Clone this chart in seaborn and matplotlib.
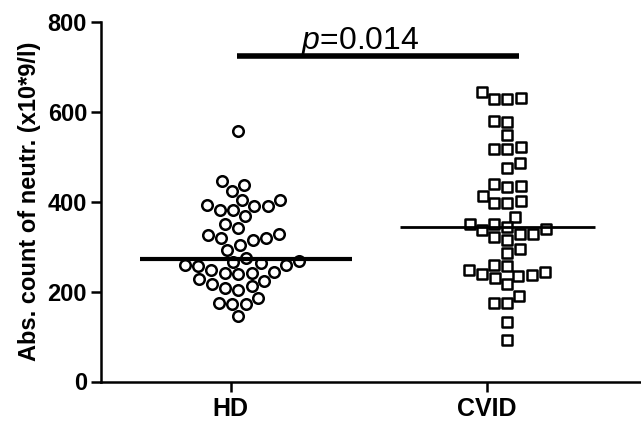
import numpy as np
import pandas as pd
import matplotlib
matplotlib.use("Agg")
import matplotlib.pyplot as plt
import seaborn as sns

# ---- data ----
groups = ["HD", "CVID"]
hd_values = [558, 445, 437, 424, 404, 404, 392, 390, 390, 381,
             381, 367, 351, 342, 327, 325, 320, 318, 314, 303,
             292, 275, 268, 266, 264, 258, 258, 256, 247, 244,
             242, 242, 239, 227, 223, 216, 212, 208, 204, 186,
             175, 173, 172, 146]
cvid_values = [644, 630, 629, 629, 580, 578, 548, 522, 517, 517,
               485, 474, 440, 435, 432, 413, 402, 396, 396, 366,
               351, 350, 343, 340, 336, 327, 327, 321, 314, 294,
               285, 260, 256, 247, 243, 238, 236, 234, 230, 216,
               191, 175, 175, 132, 93]
y_ticks = [0, 200, 400, 600, 800]
y_label = "Abs. count of neutr. (x10*9/l)"
p_text = r"$\it{p}$=0.014"

# ---- layout ----
tick_pos = {"HD": 0.0, "CVID": 1.0}
swarm_pos = {"HD": 0.03, "CVID": 1.08}
median_span = {"HD": (-0.354, 0.474), "CVID": (0.661, 1.423)}
median_lw = {"HD": 3.0, "CVID": 2.0}
markers = {"HD": "o", "CVID": "s"}

sns.set_theme(style="white")
plt.rcParams["font.family"] = ["Liberation Sans", "DejaVu Sans"]
plt.rcParams["mathtext.fontset"] = "custom"
plt.rcParams["mathtext.it"] = "Liberation Sans:italic"
plt.rcParams["mathtext.rm"] = "Liberation Sans"
for key in ["text.color", "axes.labelcolor", "xtick.color", "ytick.color",
            "axes.edgecolor"]:
    plt.rcParams[key] = "black"

fig = plt.figure(figsize=(6.41, 4.22), dpi=100)
ax = fig.add_axes([101 / 641, 40.5 / 422, 540 / 641, 359.8 / 422])

data = {"HD": hd_values, "CVID": cvid_values}
for g in groups:
    df = pd.DataFrame({"x": swarm_pos[g], "y": data[g]})
    n_before = len(ax.collections)
    sns.swarmplot(data=df, x="x", y="y", native_scale=True, orient="x",
                  marker=markers[g], color="white", edgecolor="black",
                  linewidth=1.8, size=11.0, ax=ax, zorder=3)
    # keep the wider swarm spacing but draw slightly smaller markers
    for coll in ax.collections[n_before:]:
        coll.set_sizes([7.6 ** 2])
    med = np.median(data[g])
    ax.hlines(med, *median_span[g], color="black", lw=median_lw[g], zorder=4)

# significance bar
ax.hlines(723, 0.023, 1.126, color="black", lw=4, clip_on=False)
ax.text(0.505, 740, p_text, ha="center", va="baseline", fontsize=23)

ax.set_xlim(-0.507, 1.602)
ax.set_ylim(0, 800)
ax.set_yticks(y_ticks)
ax.set_yticklabels([str(v) for v in y_ticks], fontweight="bold", fontsize=17)
ax.set_xticks([tick_pos[g] for g in groups])
ax.set_xticklabels(groups, fontweight="bold", fontsize=18)
ax.set_xlabel("")
ax.set_ylabel(y_label, fontweight="bold", fontsize=17, labelpad=5)

for side in ["top", "right"]:
    ax.spines[side].set_visible(False)
for side in ["left", "bottom"]:
    ax.spines[side].set_linewidth(1.8)
    ax.spines[side].set_color("black")
ax.tick_params(axis="both", direction="out", length=7, width=1.8,
               color="black", left=True, bottom=True, pad=3)
ax.tick_params(axis="x", pad=4)

fig.savefig("out.png", dpi=100)
